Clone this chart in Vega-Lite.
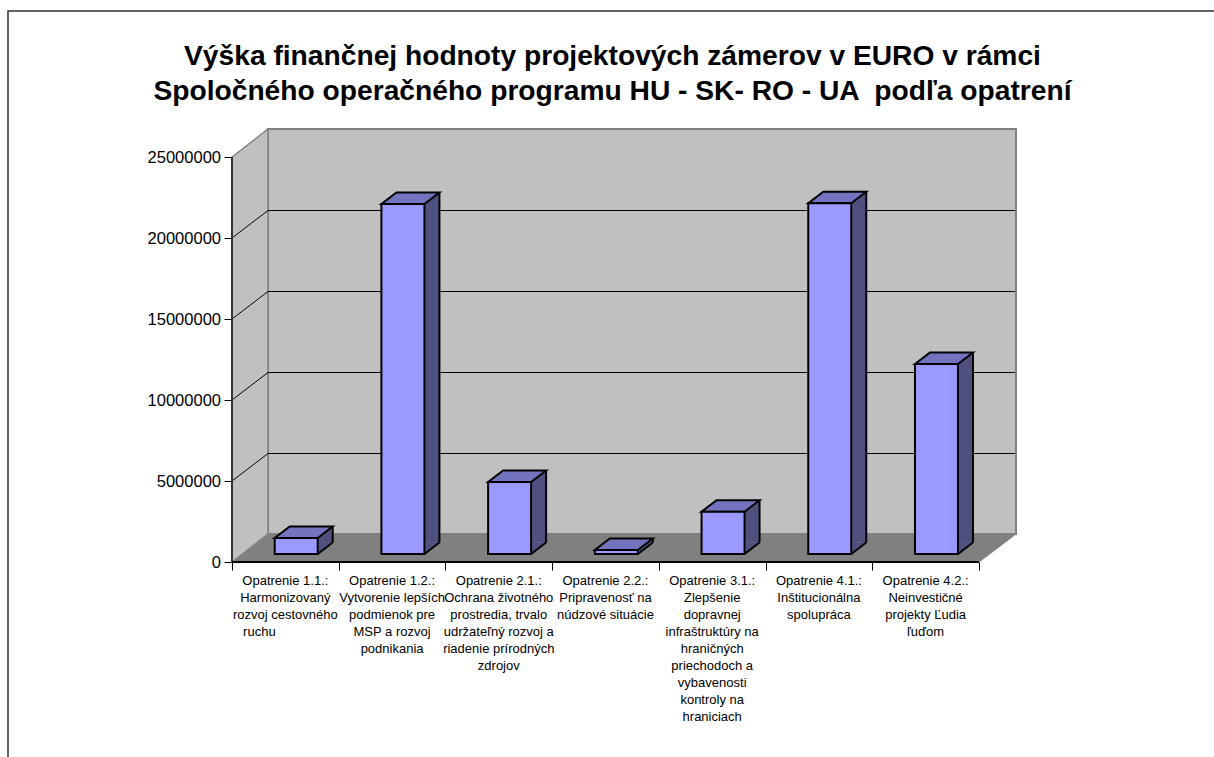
{
"$schema":"https://vega.github.io/schema/vega-lite/v6.json",
"width":784,"height":433,
"autosize":{"type":"none"},
"padding":{"left":232,"top":129,"right":198,"bottom":195},
"background":"white",
"config":{"view":{"stroke":null}},
"title":{"text":["Výška finančnej hodnoty projektových zámerov v EURO v rámci","Spoločného operačného programu HU - SK- RO - UA \u00a0podľa opatrení"],"font":"Liberation Sans","fontSize":28.2,"fontWeight":"bold","color":"black","anchor":"middle","frame":"group","dx":-11.5,"offset":-126,"lineHeight":34.5,"baseline":"bottom"},
"datasets":{
"bars":[
{"order":1,"value":990000,"label":["Opatrenie 1.1.:","Harmonizovaný","rozvoj cestovného","ruchu\u2003\u2003\u2003\u2003\u200b"]},
{"order":2,"value":21600000,"label":["Opatrenie 1.2.:","Vytvorenie lepších","podmienok pre","MSP a rozvoj","podnikania"]},
{"order":3,"value":4440000,"label":["Opatrenie 2.1.:","Ochrana životného","prostredia, trvalo","udržateľný rozvoj a","riadenie prírodných","zdrojov"]},
{"order":4,"value":250000,"label":["Opatrenie 2.2.:","Pripravenosť na","núdzové situácie"]},
{"order":5,"value":2610000,"label":["Opatrenie 3.1.:","Zlepšenie","dopravnej","infraštruktúry na","hraničných","priechodoch a","vybavenosti","kontroly na","hraniciach"]},
{"order":6,"value":21650000,"label":["Opatrenie 4.1.:","Inštitucionálna","spolupráca"]},
{"order":7,"value":11730000,"label":["Opatrenie 4.2.:","Neinvestičné","projekty Ľudia","ľuďom"]}
],
"ticks":[{"x":0.5,"tick":5000000},{"x":0.5,"tick":10000000},{"x":0.5,"tick":15000000},{"x":0.5,"tick":20000000}],
"origin":[{"x":0.5,"y":0,"xEnd":7.5,"yTop":25000000}]
},
"data":{"name":"bars"},
"encoding":{
"x":{"field":"order","type":"quantitative","scale":{"domain":[0.5,7.847],"nice":false,"zero":false,"padding":0},"axis":{"values":[0.5,1.5,2.5,3.5,4.5,5.5,6.5,7.5],"labels":false,"domain":false,"grid":false,"title":null,"tickSize":8,"tickColor":"black","tickWidth":1}},
"y":{"field":"value","type":"quantitative","scale":{"domain":[0,26728395],"nice":false,"zero":false,"padding":0},"axis":{"values":[0,5000000,10000000,15000000,20000000,25000000],"format":"d","domain":false,"grid":false,"title":null,"tickSize":8,"tickColor":"black","tickWidth":1,"labelFont":"Liberation Sans","labelFontSize":16.5,"labelColor":"black","labelPadding":3.5}}
},
"layer":[
{"data":{"name":"origin"},"mark":{"type":"point","filled":true,"opacity":1,"size":4,"fill":"#808080","stroke":"#808080","strokeWidth":1,"shape":"M0 0 L36 -28 L784 -28 L747 0 Z"},"encoding":{"x":{"field":"x","type":"quantitative"},"y":{"field":"y","type":"quantitative"}}},
{"data":{"name":"origin"},"mark":{"type":"point","filled":true,"opacity":1,"size":4,"fill":"#c0c0c0","stroke":"#808080","strokeWidth":2,"shape":"M36 -28 L36 -433 L784 -433 L784 -28 Z"},"encoding":{"x":{"field":"x","type":"quantitative"},"y":{"field":"y","type":"quantitative"}}},
{"data":{"name":"origin"},"mark":{"type":"point","filled":true,"opacity":1,"size":4,"fill":"#c0c0c0","stroke":"#808080","strokeWidth":1.5,"shape":"M0 0 L36 -28 L36 -433 L0 -405 Z"},"encoding":{"x":{"field":"x","type":"quantitative"},"y":{"field":"y","type":"quantitative"}}},
{"data":{"name":"origin"},"mark":{"type":"point","filled":false,"opacity":1,"size":4,"stroke":"#333333","strokeWidth":1.5,"shape":"M-224 200 L-224 -551 L984 -551"},"encoding":{"x":{"field":"x","type":"quantitative"},"y":{"field":"y","type":"quantitative"}}},
{"data":{"name":"ticks"},"mark":{"type":"point","filled":false,"opacity":1,"size":4,"stroke":"black","strokeWidth":1,"shape":"M0 0 L36 -27.5 L783 -27.5"},"encoding":{"x":{"field":"x","type":"quantitative"},"y":{"field":"tick","type":"quantitative"}}},
{"data":{"name":"origin"},"mark":{"type":"rule","color":"#333333","strokeWidth":2},"encoding":{"x":{"field":"x","type":"quantitative"},"y":{"field":"y","type":"quantitative"},"y2":{"field":"yTop"}}},
{"data":{"name":"origin"},"mark":{"type":"rule","color":"black","strokeWidth":2},"encoding":{"x":{"field":"x","type":"quantitative"},"x2":{"field":"xEnd"},"y":{"field":"y","type":"quantitative"}}},
{"mark":{"type":"bar","size":15,"fill":"#50507f","xOffset":39.85,"yOffset":-19.5,"y2Offset":-19.5},"encoding":{"y2":{"datum":0}}},
{"mark":{"type":"point","filled":true,"opacity":1,"size":4,"fill":"#50507f","strokeWidth":0,"shape":"M32.35 -8 L32.35 -19.5 L47.35 -19.5 Z"},"encoding":{"y":{"datum":0,"type":"quantitative"}}},
{"mark":{"type":"rule","color":"black","strokeWidth":2,"xOffset":47.35,"yOffset":-19.5,"y2Offset":-19.5},"encoding":{"y2":{"datum":0}}},
{"mark":{"type":"point","filled":false,"opacity":1,"size":4,"stroke":"black","strokeWidth":2,"shape":"M32.35 -8 L47.35 -19.5"},"encoding":{"y":{"datum":0,"type":"quantitative"}}},
{"mark":{"type":"point","filled":true,"opacity":1,"size":4,"fill":"#7373bf","stroke":"black","strokeWidth":2,"shape":"M-10.65 -8 L32.35 -8 L47.35 -19.5 L4.35 -19.5 Z"}},
{"mark":{"type":"bar","size":43,"fill":"#9999ff","stroke":"black","strokeWidth":2,"xOffset":10.85,"yOffset":-8,"y2Offset":-8},"encoding":{"y2":{"datum":0}}},
{"mark":{"type":"text","font":"Liberation Sans","fontSize":13,"color":"black","align":"center","baseline":"top","dy":13,"lineHeight":17},"encoding":{"y":{"datum":0,"type":"quantitative"},"text":{"field":"label"}}}
]
}
